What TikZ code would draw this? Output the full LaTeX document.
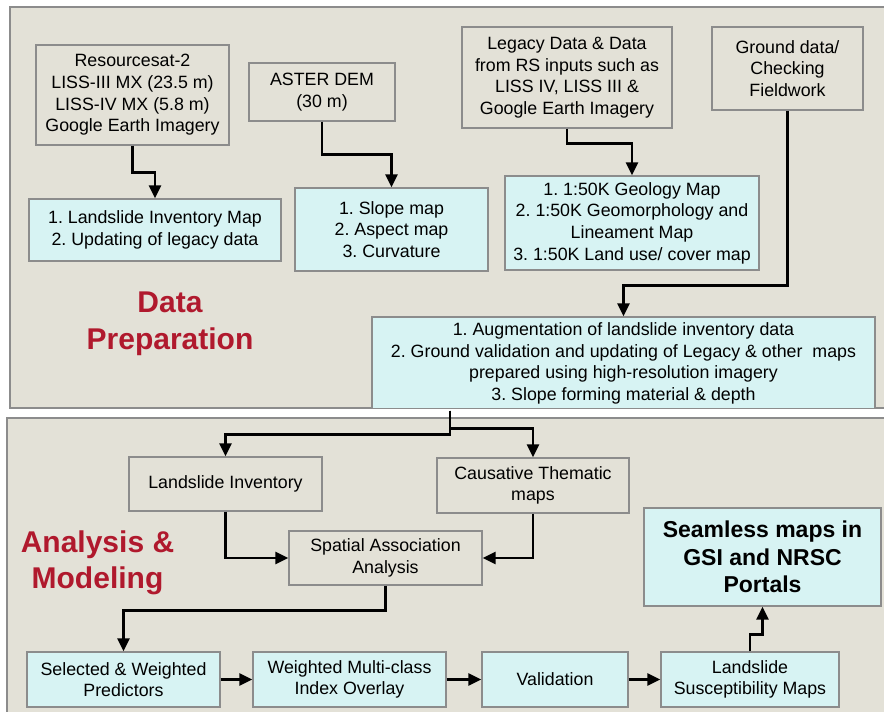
\documentclass[tikz,border=0pt]{standalone}
\usepackage{fontspec}
\setmainfont{Liberation Sans}
\usetikzlibrary{arrows.meta}
\definecolor{panel}{HTML}{E3E1D7}
\definecolor{cyanbox}{HTML}{D7F3F3}
\definecolor{boxline}{HTML}{8C8C8C}
\definecolor{darkred}{HTML}{B0192D}
\frenchspacing
\tikzset{
  gbox/.style={draw=boxline, line width=1.2pt, fill=panel, align=center, inner sep=0pt,
    font=\fontsize{17.8}{21.6}\selectfont},
  cbox/.style={gbox, fill=cyanbox},
  arr/.style={line width=2.6pt, -{Triangle[length=13pt,width=12pt]}},
  ttl/.style={text=darkred, align=center, font=\fontsize{30}{36.5}\selectfont\bfseries}
}
\begin{document}
\begin{tikzpicture}[x=1pt,y=-1pt]
\useasboundingbox (0,0) rectangle (884,712);
\fill[white] (0,0) rectangle (884,712);
% panels
\draw[draw=boxline, line width=1.2pt, fill=panel] (10,7) rectangle (890,408);
\draw[draw=boxline, line width=1.2pt, fill=panel] (7,418) rectangle (890,720);

% top section
\node[gbox, minimum width=193pt, minimum height=100pt] (res) at (132.5,95)
  {Resourcesat-2\\LISS-III MX (23.5 m)\\LISS-IV MX (5.8 m)\\Google Earth Imagery};
\node[cbox, minimum width=252pt, minimum height=62pt] (lim) at (155,230)
  {1. Landslide Inventory Map\\2. Updating of legacy data};
\node[gbox, minimum width=146pt, minimum height=58pt] (aster) at (322,92)
  {ASTER DEM\\(30 m)};
\node[cbox, minimum width=193pt, minimum height=83pt] (slope) at (391.5,229.5)
  {1. Slope map\\2. Aspect map\\3. Curvature};
\node[gbox, minimum width=210pt, minimum height=101pt] (legacy) at (567,77.5)
  {Legacy Data \& Data\\from RS inputs such as\\LISS IV, LISS III \&\\Google Earth Imagery};
\node[cbox, minimum width=254pt, minimum height=94pt] (geo) at (632,223)
  {1. 1:50K Geology Map\\2. 1:50K Geomorphology and\\Lineament Map\\3. 1:50K Land use/ cover map};
\node[gbox, minimum width=151pt, minimum height=83pt] (ground) at (787.5,68.5)
  {Ground data/\\Checking\\Fieldwork};
\begin{scope}
\clip (0,0) rectangle (884,407.4);
\node[cbox, minimum width=503pt, minimum height=93pt] (aug) at (623.5,363.5)
  {1. Augmentation of landslide inventory data\\2. Ground validation and updating of Legacy \& other\ \ maps\\prepared using high-resolution imagery\\3. Slope forming material \& depth};
\end{scope}
\node[ttl] (dp) at (170,324) {Data\\Preparation};

\draw[arr] (res.south) -- ++(0,27) -| (lim.north);
\draw[arr] (aster.south) -- ++(0,33) -| (slope.north);
\draw[arr] (legacy.south) -- ++(0,15) -| (geo.north);
\draw[arr] (ground.south) -- ++(0,175) -| (aug.north);

% bottom section
\node[gbox, minimum width=193pt, minimum height=54pt] (li) at (225.5,484) {Landslide Inventory};
\node[gbox, minimum width=192pt, minimum height=55pt] (ct) at (533,485.5) {Causative Thematic\\maps};
\node[gbox, minimum width=193pt, minimum height=54pt] (saa) at (385.5,558) {Spatial Association\\Analysis};
\node[cbox, minimum width=237pt, minimum height=98pt, font=\fontsize{23}{27.5}\selectfont\bfseries] (seam) at (762.5,557)
  {Seamless maps in\\GSI and NRSC\\Portals};
\node[cbox, minimum width=193pt, minimum height=55pt] (sel) at (123.5,679.5) {Selected \& Weighted\\Predictors};
\node[cbox, minimum width=193pt, minimum height=55pt] (wmc) at (349.5,679.5) {Weighted Multi-class\\Index Overlay};
\node[cbox, minimum width=146pt, minimum height=55pt] (val) at (555,679.5) {Validation};
\node[cbox, minimum width=178pt, minimum height=55pt] (lsm) at (750,679.5) {Landslide\\Susceptibility Maps};
\node[ttl] (am) at (97.5,563) {Analysis \&\\Modeling};

\coordinate (split) at ([xshift=-173.5pt]aug.south);
\draw[arr] (split) -- ++(0,24) -| (li.north);
\draw[arr] (split) -- ++(0,18) -| (ct.north);
\draw[arr] (li.south) |- (saa.west);
\draw[arr] (ct.south) |- (saa.east);
\draw[arr] (saa.south) -- ++(0,25) -| (sel.north);
\draw[arr] (sel) -- (wmc);
\draw[arr] (wmc) -- (val);
\draw[arr] (val) -- (lsm);
\draw[arr] (lsm.north) -- ++(0,-17) -| (seam.south);
\end{tikzpicture}
\end{document}
